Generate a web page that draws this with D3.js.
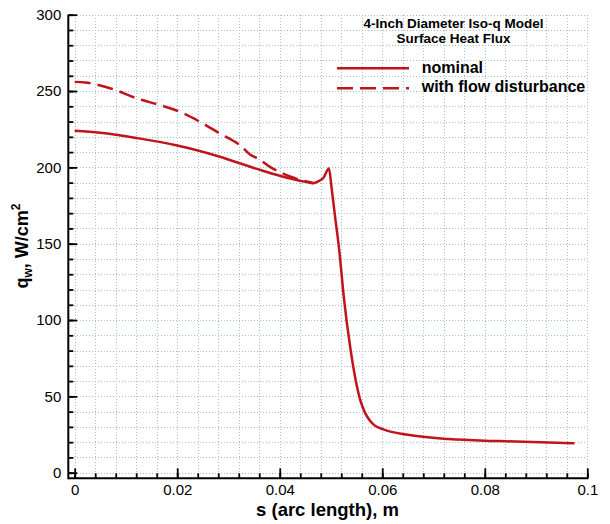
<!DOCTYPE html>
<html>
<head>
<meta charset="utf-8">
<script src="https://cdn.jsdelivr.net/npm/d3@7"></script>
<style>
  html, body { margin: 0; padding: 0; background: #fff; }
  svg { display: block; }
  text { font-family: "Liberation Sans", Arial, Helvetica, sans-serif; fill: #000; }
</style>
</head>
<body>
<svg id="chart" width="610" height="524"></svg>
<script>
// Surface heat flux along the arc length of the iso-q model
const nominalS = [0, 0.005, 0.0125, 0.02, 0.028, 0.036, 0.040, 0.045, 0.0465, 0.0475, 0.0485,
  0.0496, 0.0501, 0.0508, 0.0516, 0.0525, 0.0538, 0.0558, 0.0566, 0.0575, 0.0585,
  0.0602, 0.065, 0.073, 0.083, 0.0975];
const nominalQ = [224, 222.7, 219, 214.3, 207.3, 198.5, 194.5, 190.5, 189.6, 190.8, 193,
  199.3, 187, 167.6, 146, 115, 81, 46.5, 39.5, 34.5, 31,
  28.4, 24.8, 22, 20.7, 19.3];

const disturbedS = [0, 0.002, 0.007, 0.0127, 0.0167, 0.0205, 0.0244, 0.0283, 0.0322, 0.0342,
  0.0361, 0.038, 0.040, 0.042, 0.044, 0.0455, 0.0465];
const disturbedQ = [256, 255.6, 251.7, 244.5, 240.8, 236.4, 229.9, 222.2, 214.6, 208.5,
  205, 200.5, 197, 194, 191.8, 190.6, 189.8];

const xMajorTicks = [0, 0.02, 0.04, 0.06, 0.08, 0.1];
const xMinorTicks = d3.range(0, 26).map(i => +(i * 0.004).toFixed(3));
const yMajorTicks = [0, 50, 100, 150, 200, 250, 300];
const yMinorTicks = d3.range(0, 31).map(i => i * 10);

const titleLines = ["4-Inch Diameter Iso-q Model", "Surface Heat Flux"];
const seriesNames = ["nominal", "with flow disturbance"];

const lineColor = "#c0141c";
const gridColor = "#9fc1cf";

const svg = d3.select("#chart");

const x = d3.scaleLinear().domain([0, 0.1]).range([74.7, 587.3]);
const y = d3.scaleLinear().domain([0, 300]).range([472.7, 14.7]);

const axisX = 68.3;   // position of the vertical axis line
const axisY = 478.3;  // position of the horizontal axis line
const snap = v => Math.round(v) + 0.5;

// dotted grid
const grid = svg.append("g")
  .attr("stroke", gridColor)
  .attr("stroke-width", 1)
  .attr("stroke-dasharray", "1,2")
  .attr("shape-rendering", "crispEdges");
grid.selectAll("line.v").data(xMinorTicks).join("line")
  .attr("x1", d => snap(x(d))).attr("x2", d => snap(x(d)))
  .attr("y1", y(300)).attr("y2", axisY);
grid.selectAll("line.h").data(yMinorTicks).join("line")
  .attr("x1", axisX).attr("x2", x(0.1))
  .attr("y1", d => snap(y(d))).attr("y2", d => snap(y(d)));

// axes: inward ticks, major and minor
function styleAxis(g) {
  g.select(".domain").remove();
  g.selectAll(".tick line").attr("stroke", "#000").attr("stroke-width", 1.8);
  g.selectAll(".tick text")
    .style("font-family", "'Liberation Sans', Arial, Helvetica, sans-serif")
    .style("font-size", "15px").attr("fill", "#000");
}

svg.append("g").attr("transform", `translate(${axisX},0)`)
  .call(d3.axisLeft(y).tickValues(yMinorTicks).tickSize(-5).tickFormat(""))
  .call(styleAxis);
svg.append("g").attr("transform", `translate(${axisX},0)`)
  .call(d3.axisLeft(y).tickValues(yMajorTicks).tickSize(-9).tickPadding(7)
    .tickFormat(d3.format("~g")))
  .call(styleAxis);

svg.append("g").attr("transform", `translate(0,${axisY})`)
  .call(d3.axisBottom(x).tickValues(xMinorTicks).tickSize(-5).tickFormat(""))
  .call(styleAxis);
svg.append("g").attr("transform", `translate(0,${axisY})`)
  .call(d3.axisBottom(x).tickValues(xMajorTicks).tickSize(-10).tickPadding(6)
    .tickFormat(d3.format("~g")))
  .call(styleAxis);

// axis lines
svg.append("line").attr("x1", axisX).attr("x2", axisX).attr("y1", y(300)).attr("y2", axisY + 1)
  .attr("stroke", "#000").attr("stroke-width", 2);
svg.append("line").attr("x1", axisX).attr("x2", x(0.1) + 1).attr("y1", axisY).attr("y2", axisY)
  .attr("stroke", "#000").attr("stroke-width", 2);

// curves
const line = d3.line().x(d => x(d[0])).y(d => y(d[1])).curve(d3.curveMonotoneX);
const disturbed = disturbedS.map((s, i) => [s, disturbedQ[i]]);
const nominal = nominalS.map((s, i) => [s, nominalQ[i]]);

svg.append("path").attr("d", line(disturbed))
  .attr("fill", "none").attr("stroke", lineColor).attr("stroke-width", 2.5)
  .attr("stroke-dasharray", "16,7");
svg.append("path").attr("d", line(nominal))
  .attr("fill", "none").attr("stroke", lineColor).attr("stroke-width", 2.5)
  .attr("stroke-linejoin", "round");

// title
svg.append("g").selectAll("text").data(titleLines).join("text")
  .attr("x", 453.5).attr("y", (d, i) => 28 + i * 15)
  .attr("text-anchor", "middle")
  .style("font-size", "13.5px").style("font-weight", "bold")
  .text(d => d);

// legend
const legend = svg.append("g");
const legendRows = [
  { name: seriesNames[0], dash: null, ly: 68.3, ty: 73.3 },
  { name: seriesNames[1], dash: "16,7", ly: 88.3, ty: 92 }
];
legendRows.forEach(r => {
  legend.append("line").attr("x1", 337).attr("x2", 409).attr("y1", r.ly).attr("y2", r.ly)
    .attr("stroke", lineColor).attr("stroke-width", 2.5)
    .attr("stroke-dasharray", r.dash);
  legend.append("text").attr("x", 421.7).attr("y", r.ty)
    .style("font-size", "16px").style("font-weight", "bold").text(r.name);
});

// axis titles
svg.append("text").attr("x", 327.5).attr("y", 515.7).attr("text-anchor", "middle")
  .style("font-size", "18.5px").style("font-weight", "bold")
  .text("s (arc length), m");

const yTitle = svg.append("text")
  .attr("transform", "translate(28,246) rotate(-90)")
  .attr("text-anchor", "middle")
  .style("font-size", "18px").style("font-weight", "bold");
yTitle.append("tspan").text("q");
yTitle.append("tspan").attr("dy", 4).style("font-size", "12px").text("w");
yTitle.append("tspan").attr("dy", -4).text(", W/cm");
yTitle.append("tspan").attr("dy", -8).style("font-size", "12px").text("2");
</script>
</body>
</html>
